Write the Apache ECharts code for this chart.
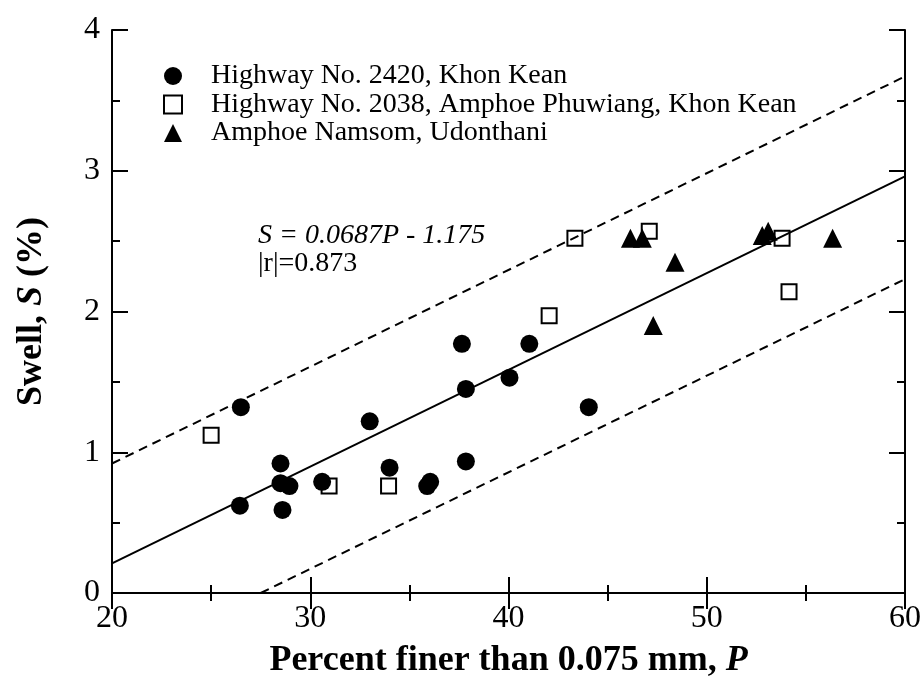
<!DOCTYPE html>
<html>
<head>
<meta charset="utf-8">
<script src="https://cdn.jsdelivr.net/npm/echarts@6/dist/echarts.min.js"></script>
<style>html,body{margin:0;padding:0;background:#fff;}#c{width:924px;height:684px;}</style>
</head>
<body>
<div id="c"></div>
<script>
// Tick/axis settings
const xRange = [20, 60, 10];
const yRange = [0, 4, 1];

// Series names
const seriesNames = ['Highway No. 2420, Khon Kean', 'Highway No. 2038, Amphoe Phuwiang, Khon Kean', 'Amphoe Namsom, Udonthani'];

// Highway No. 2420 (filled circles)
const hw2420P = [26.5, 26.45, 28.5, 28.5, 28.95, 28.6, 30.6, 33.0, 34.0, 35.9, 36.05, 37.65, 37.85, 37.85, 40.05, 41.05, 44.05];
const hw2420S = [1.32, 0.62, 0.92, 0.78, 0.76, 0.59, 0.79, 1.22, 0.89, 0.76, 0.79, 1.77, 1.45, 0.935, 1.53, 1.77, 1.32];

// Highway No. 2038 (open squares)
const hw2038P = [25.0, 30.95, 33.95, 42.05, 43.35, 47.1, 53.8, 54.15];
const hw2038S = [1.12, 0.76, 0.76, 1.97, 2.52, 2.57, 2.52, 2.14];

// Amphoe Namsom (filled triangles)
const namsomP = [46.15, 46.75, 47.3, 48.4, 52.8, 53.1, 56.35];
const namsomS = [2.52, 2.52, 1.9, 2.35, 2.54, 2.57, 2.52];

// Regression line and bounds
const fitP = [20, 60];
const fitS = [0.21, 2.96];
const upperP = [20, 60];
const upperS = [0.92, 3.67];
const lowerP = [27.5, 60];
const lowerS = [0, 2.23];

const zip = (a, b) => a.map((v, i) => [v, b[i]]);
const FONT = '"Liberation Serif", "Times New Roman", serif';

const chart = echarts.init(document.getElementById('c'), null, {renderer: 'canvas'});

const axisCommon = {
  type: 'value',
  axisLine: {show: true, lineStyle: {color: '#000', width: 2}},
  axisTick: {show: true, inside: true, length: 16, lineStyle: {color: '#000', width: 2}},
  minorTick: {show: true, splitNumber: 2, length: 8, lineStyle: {color: '#000', width: 2}},
  splitLine: {show: false},
  minorSplitLine: {show: false}
};

const option = {
  backgroundColor: '#fff',
  animation: false,
  grid: {left: 112, right: 19, top: 30, bottom: 88},
  xAxis: [
    Object.assign({}, axisCommon, {
      position: 'bottom', min: xRange[0], max: xRange[1], interval: xRange[2],
      axisLabel: {color: '#000', fontFamily: FONT, fontSize: 32, margin: 10},
      name: 'Percent finer than 0.075 mm, {i|P}',
      nameLocation: 'middle', nameGap: 50,
      nameTextStyle: {color: '#000', fontFamily: FONT, fontSize: 36, fontWeight: 'bold',
        rich: {i: {fontFamily: FONT, fontSize: 36, fontWeight: 'bold', fontStyle: 'italic', color: '#000'}}}
    }),
    Object.assign({}, axisCommon, {
      position: 'top', min: xRange[0], max: xRange[1], interval: xRange[2],
      axisLabel: {show: false}
    })
  ],
  yAxis: [
    Object.assign({}, axisCommon, {
      position: 'left', min: yRange[0], max: yRange[1], interval: yRange[2],
      axisLabel: {color: '#000', fontFamily: FONT, fontSize: 32, margin: 12},
      name: 'Swell, {i|S} (%)',
      nameLocation: 'middle', nameGap: 62, nameRotate: 90,
      nameTextStyle: {color: '#000', fontFamily: FONT, fontSize: 36, fontWeight: 'bold',
        rich: {i: {fontFamily: FONT, fontSize: 36, fontWeight: 'bold', fontStyle: 'italic', color: '#000'}}}
    }),
    Object.assign({}, axisCommon, {
      position: 'right', min: yRange[0], max: yRange[1], interval: yRange[2],
      axisLabel: {show: false}
    })
  ],
  legend: {
    orient: 'vertical', left: 158, top: 57,
    itemWidth: 18, itemHeight: 18, itemGap: 0.5,
    selectedMode: false,
    formatter: function (name) { return '{g|}' + name; },
    textStyle: {color: '#000', fontFamily: FONT, fontSize: 28, lineHeight: 28,
      rich: {g: {width: 24, fontSize: 28, lineHeight: 28}}},
    data: seriesNames
  },
  graphic: [
    {type: 'text', x: 258, y: 236, silent: true,
      style: {text: 'S = 0.0687P - 1.175', font: 'italic 28px ' + FONT, fill: '#000', verticalAlign: 'middle'}},
    {type: 'text', x: 258, y: 264, silent: true,
      style: {text: '|r|=0.873', font: '28px ' + FONT, fill: '#000', verticalAlign: 'middle'}}
  ],
  series: [
    {type: 'line', name: 'fit', data: zip(fitP, fitS), symbol: 'none', silent: true,
      lineStyle: {color: '#000', width: 2}, z: 1},
    {type: 'line', name: 'upper', data: zip(upperP, upperS), symbol: 'none', silent: true,
      lineStyle: {color: '#000', width: 2, type: [9, 6]}, z: 1},
    {type: 'line', name: 'lower', data: zip(lowerP, lowerS), symbol: 'none', silent: true,
      lineStyle: {color: '#000', width: 2, type: [9, 6]}, z: 1},
    {type: 'scatter', name: seriesNames[0], data: zip(hw2420P, hw2420S), symbol: 'circle', symbolSize: 18,
      itemStyle: {color: '#000', opacity: 1}, z: 3},
    {type: 'scatter', name: seriesNames[1], data: zip(hw2038P, hw2038S), symbol: 'rect', symbolSize: 15,
      itemStyle: {color: 'rgba(0,0,0,0)', borderColor: '#000', borderWidth: 2, opacity: 1}, z: 3},
    {type: 'scatter', name: seriesNames[2], data: zip(namsomP, namsomS), symbol: 'triangle', symbolSize: 19,
      itemStyle: {color: '#000', opacity: 1}, z: 3}
  ]
};
chart.setOption(option);
</script>
</body>
</html>
